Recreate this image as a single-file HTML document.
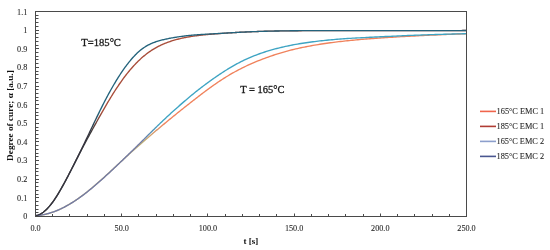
<!DOCTYPE html>
<html><head><meta charset="utf-8"><style>
html,body{margin:0;padding:0;background:#fff;}
body{width:550px;height:250px;overflow:hidden;}
svg{display:block;font-family:"Liberation Serif",serif;will-change:transform;}
</style></head><body>
<svg width="550" height="250" viewBox="0 0 550 250">
<rect x="0" y="0" width="550" height="250" fill="#fff"/>
<defs>
<linearGradient id="gb185" gradientUnits="userSpaceOnUse" x1="0" y1="216" x2="0" y2="100">
<stop offset="0" stop-color="#34343f"/><stop offset="0.72" stop-color="#34343f"/><stop offset="0.9" stop-color="#24637c"/><stop offset="1" stop-color="#24637c"/>
</linearGradient>
<linearGradient id="gb165" gradientUnits="userSpaceOnUse" x1="0" y1="216" x2="0" y2="110">
<stop offset="0" stop-color="#727aa6"/><stop offset="0.7" stop-color="#727aa6"/><stop offset="0.88" stop-color="#3ea4c3"/><stop offset="1" stop-color="#3ea4c3"/>
</linearGradient>
<linearGradient id="go165" gradientUnits="userSpaceOnUse" x1="0" y1="216" x2="0" y2="110">
<stop offset="0" stop-color="#c0b078"/><stop offset="0.7" stop-color="#c0b078"/><stop offset="0.88" stop-color="#f0825c"/><stop offset="1" stop-color="#f0825c"/>
</linearGradient>
<linearGradient id="gr185" gradientUnits="userSpaceOnUse" x1="0" y1="216" x2="0" y2="100">
<stop offset="0" stop-color="#3c3a3a"/><stop offset="0.72" stop-color="#3c3a3a"/><stop offset="0.9" stop-color="#a84d3a"/><stop offset="1" stop-color="#a84d3a"/>
</linearGradient>
<clipPath id="pc"><rect x="36" y="12" width="430" height="204"/></clipPath>
</defs>
<g fill="none" stroke-linejoin="round" stroke-linecap="butt" stroke-width="1.35" clip-path="url(#pc)">
<polyline stroke="url(#go165)" points="35.50,215.80 36.36,215.55 37.22,215.52 38.09,215.47 38.95,215.40 39.81,215.31 40.67,215.20 41.53,215.08 42.39,214.94 43.26,214.78 44.12,214.61 44.98,214.42 45.84,214.22 46.70,214.01 47.57,213.79 48.43,213.55 49.29,213.30 50.15,213.04 51.01,212.76 51.87,212.48 52.74,212.18 53.60,211.87 54.46,211.55 55.32,211.22 56.18,210.87 57.05,210.52 57.91,210.15 58.77,209.78 59.63,209.39 60.49,208.99 61.35,208.58 62.22,208.16 63.08,207.73 63.94,207.29 64.80,206.84 65.66,206.38 66.52,205.91 67.39,205.42 68.25,204.93 69.11,204.43 69.97,203.92 70.83,203.40 71.70,202.86 72.56,202.32 73.42,201.77 74.28,201.21 75.14,200.64 76.00,200.07 76.87,199.48 77.73,198.88 78.59,198.28 79.45,197.67 80.31,197.04 81.18,196.41 82.04,195.77 82.90,195.13 83.76,194.47 84.62,193.81 85.48,193.14 86.35,192.46 87.21,191.78 88.07,191.09 88.93,190.39 89.79,189.68 90.66,188.97 91.52,188.26 92.38,187.54 93.24,186.81 94.10,186.08 94.96,185.34 95.83,184.59 96.69,183.85 97.55,183.09 98.41,182.34 99.27,181.58 100.14,180.81 101.00,180.04 101.86,179.27 102.72,178.50 103.58,177.72 104.44,176.94 105.31,176.15 106.17,175.36 107.03,174.57 107.89,173.78 108.75,172.99 109.61,172.19 110.48,171.40 111.34,170.60 112.20,169.80 113.06,169.00 113.92,168.20 114.79,167.39 115.65,166.59 116.51,165.79 117.37,164.98 118.23,164.18 119.09,163.38 119.96,162.58 120.82,161.78 121.68,160.98 122.54,160.18 123.40,159.39 124.27,158.59 125.13,157.80 125.99,157.01 126.85,156.22 127.71,155.43 128.57,154.65 129.44,153.86 130.30,153.08 131.16,152.30 132.02,151.53 132.88,150.75 133.75,149.98 134.61,149.21 135.47,148.44 136.33,147.67 137.19,146.91 138.05,146.15 138.92,145.39 139.78,144.63 140.64,143.87 141.50,143.12 142.36,142.37 143.22,141.62 144.09,140.87 144.95,140.13 145.81,139.39 146.67,138.64 147.53,137.91 148.40,137.17 149.26,136.43 150.12,135.70 150.98,134.97 151.84,134.24 152.70,133.51 153.57,132.78 154.43,132.05 155.29,131.32 156.15,130.60 157.01,129.87 157.88,129.15 158.74,128.42 159.60,127.70 160.46,126.98 161.32,126.26 162.18,125.54 163.05,124.82 163.91,124.11 164.77,123.39 165.63,122.68 166.49,121.96 167.36,121.25 168.22,120.54 169.08,119.83 169.94,119.13 170.80,118.42 171.66,117.72 172.53,117.02 173.39,116.32 174.25,115.62 175.11,114.92 175.97,114.22 176.84,113.53 177.70,112.84 178.56,112.14 179.42,111.45 180.28,110.76 181.14,110.07 182.01,109.38 182.87,108.70 183.73,108.01 184.59,107.33 185.45,106.64 186.31,105.96 187.18,105.28 188.04,104.60 188.90,103.92 189.76,103.24 190.62,102.56 191.49,101.88 192.35,101.21 193.21,100.53 194.07,99.86 194.93,99.19 195.79,98.52 196.66,97.85 197.52,97.19 198.38,96.52 199.24,95.86 200.10,95.20 200.97,94.54 201.83,93.89 202.69,93.23 203.55,92.58 204.41,91.93 205.27,91.29 206.14,90.65 207.00,90.01 207.86,89.37 208.72,88.74 209.58,88.11 210.45,87.49 211.31,86.87 212.17,86.25 213.03,85.64 213.89,85.03 214.75,84.43 215.62,83.83 216.48,83.23 217.34,82.64 218.20,82.06 219.06,81.48 219.93,80.91 220.79,80.34 221.65,79.77 222.51,79.22 223.37,78.66 224.23,78.12 225.10,77.58 225.96,77.04 226.82,76.51 227.68,75.99 228.54,75.47 229.41,74.95 230.27,74.45 231.13,73.95 231.99,73.45 232.85,72.96 233.71,72.47 234.58,71.99 235.44,71.52 236.30,71.05 237.16,70.59 238.02,70.13 238.88,69.68 239.75,69.23 240.61,68.79 241.47,68.36 242.33,67.93 244.06,67.08 245.78,66.25 247.50,65.44 249.23,64.65 250.95,63.88 252.67,63.13 254.40,62.39 256.12,61.67 257.84,60.96 259.57,60.27 261.29,59.59 263.02,58.93 264.74,58.28 266.46,57.65 268.19,57.03 269.91,56.43 271.63,55.84 273.36,55.26 275.08,54.70 276.80,54.15 278.53,53.61 280.25,53.08 281.97,52.57 283.70,52.08 285.42,51.59 287.15,51.12 288.87,50.66 290.59,50.21 292.32,49.78 294.04,49.35 295.76,48.94 297.49,48.55 299.21,48.16 300.93,47.78 302.66,47.42 304.38,47.06 306.11,46.72 307.83,46.39 309.55,46.06 311.28,45.75 313.00,45.44 314.72,45.14 316.45,44.85 318.17,44.57 319.89,44.29 321.62,44.03 323.34,43.76 325.06,43.51 326.79,43.26 328.51,43.02 330.24,42.79 331.96,42.56 333.68,42.33 335.41,42.12 337.13,41.90 338.85,41.70 340.58,41.50 342.30,41.30 344.02,41.11 345.75,40.92 347.47,40.74 349.20,40.56 350.92,40.39 352.64,40.22 354.37,40.06 356.09,39.90 357.81,39.74 359.54,39.59 361.26,39.44 362.98,39.29 364.71,39.15 366.43,39.01 368.15,38.87 369.88,38.73 371.60,38.60 373.33,38.47 375.05,38.35 376.77,38.22 378.50,38.10 380.22,37.98 381.94,37.87 383.67,37.75 385.39,37.64 387.11,37.53 388.84,37.42 390.56,37.31 392.29,37.21 394.01,37.10 395.73,37.00 397.46,36.90 399.18,36.80 400.90,36.70 402.63,36.60 404.35,36.51 406.07,36.42 407.80,36.32 409.52,36.23 411.24,36.14 412.97,36.05 414.69,35.96 416.42,35.87 418.14,35.79 419.86,35.70 421.59,35.62 423.31,35.53 425.03,35.45 426.76,35.37 428.48,35.28 430.20,35.20 431.93,35.13 433.65,35.05 435.38,34.97 437.10,34.89 438.82,34.82 440.55,34.74 442.27,34.67 443.99,34.59 445.72,34.52 447.44,34.45 449.16,34.38 450.89,34.31 452.61,34.24 454.33,34.17 456.06,34.10 457.78,34.03 459.51,33.96 461.23,33.90 462.95,33.83 464.68,33.77 466.40,33.70"/>
<polyline stroke="url(#gr185)" points="35.50,215.80 36.36,215.56 37.22,215.41 38.09,215.17 38.95,214.85 39.81,214.45 40.67,214.00 41.53,213.48 42.39,212.90 43.26,212.27 44.12,211.58 44.98,210.84 45.84,210.05 46.70,209.21 47.57,208.32 48.43,207.38 49.29,206.40 50.15,205.37 51.01,204.29 51.87,203.16 52.74,201.99 53.60,200.78 54.46,199.53 55.32,198.23 56.18,196.90 57.05,195.53 57.91,194.13 58.77,192.70 59.63,191.23 60.49,189.74 61.35,188.23 62.22,186.69 63.08,185.13 63.94,183.56 64.80,181.96 65.66,180.36 66.52,178.74 67.39,177.10 68.25,175.46 69.11,173.81 69.97,172.15 70.83,170.48 71.70,168.81 72.56,167.14 73.42,165.46 74.28,163.78 75.14,162.10 76.00,160.43 76.87,158.75 77.73,157.08 78.59,155.41 79.45,153.75 80.31,152.09 81.18,150.43 82.04,148.78 82.90,147.14 83.76,145.51 84.62,143.88 85.48,142.26 86.35,140.65 87.21,139.04 88.07,137.44 88.93,135.85 89.79,134.26 90.66,132.68 91.52,131.11 92.38,129.54 93.24,127.98 94.10,126.42 94.96,124.86 95.83,123.31 96.69,121.77 97.55,120.22 98.41,118.69 99.27,117.15 100.14,115.62 101.00,114.10 101.86,112.58 102.72,111.07 103.58,109.56 104.44,108.07 105.31,106.58 106.17,105.10 107.03,103.64 107.89,102.18 108.75,100.74 109.61,99.30 110.48,97.88 111.34,96.48 112.20,95.09 113.06,93.71 113.92,92.35 114.79,91.00 115.65,89.67 116.51,88.35 117.37,87.05 118.23,85.77 119.09,84.50 119.96,83.25 120.82,82.02 121.68,80.81 122.54,79.61 123.40,78.43 124.27,77.27 125.13,76.13 125.99,75.01 126.85,73.91 127.71,72.82 128.57,71.76 129.44,70.72 130.30,69.69 131.16,68.69 132.02,67.70 132.88,66.73 133.75,65.79 134.61,64.86 135.47,63.94 136.33,63.05 137.19,62.18 138.05,61.32 138.92,60.49 139.78,59.67 140.64,58.87 141.50,58.09 142.36,57.33 143.22,56.59 144.09,55.87 144.95,55.16 145.81,54.48 146.67,53.81 147.53,53.16 148.40,52.53 149.26,51.91 150.12,51.32 150.98,50.74 151.84,50.17 152.70,49.63 153.57,49.09 154.43,48.58 155.29,48.08 156.15,47.59 157.01,47.12 157.88,46.66 158.74,46.22 159.60,45.78 160.46,45.37 161.32,44.96 162.18,44.57 163.05,44.19 163.91,43.82 164.77,43.46 165.63,43.11 166.49,42.78 167.36,42.45 168.22,42.13 169.08,41.82 169.94,41.53 170.80,41.24 171.66,40.96 172.53,40.69 173.39,40.42 174.25,40.17 175.11,39.92 175.97,39.68 176.84,39.45 177.70,39.23 178.56,39.01 179.42,38.80 180.28,38.60 181.14,38.40 182.01,38.21 182.87,38.02 183.73,37.84 184.59,37.67 185.45,37.50 186.31,37.34 187.18,37.18 188.04,37.02 188.90,36.87 189.76,36.73 190.62,36.59 191.49,36.45 192.35,36.32 193.21,36.19 194.07,36.06 194.93,35.94 195.79,35.82 196.66,35.71 197.52,35.60 198.38,35.49 199.24,35.39 200.10,35.29 200.97,35.19 201.83,35.10 202.69,35.00 203.55,34.91 204.41,34.83 205.27,34.74 206.14,34.66 207.00,34.58 207.86,34.51 208.72,34.43 209.58,34.36 210.45,34.28 211.31,34.21 212.17,34.14 213.03,34.07 213.89,34.01 214.75,33.94 215.62,33.87 216.48,33.81 217.34,33.74 218.20,33.68 219.06,33.61 219.93,33.55 220.79,33.48 221.65,33.42 222.51,33.36 223.37,33.30 224.23,33.24 225.10,33.18 225.96,33.12 226.82,33.06 227.68,33.00 228.54,32.95 229.41,32.89 230.27,32.83 231.13,32.78 231.99,32.72 232.85,32.67 233.71,32.62 234.58,32.57 235.44,32.52 236.30,32.47 237.16,32.42 238.02,32.37 238.88,32.32 239.75,32.27 240.61,32.23 241.47,32.18 242.33,32.14 244.06,32.06 245.78,31.97 247.50,31.90 249.23,31.82 250.95,31.75 252.67,31.68 254.40,31.62 256.12,31.56 257.84,31.50 259.57,31.44 261.29,31.39 263.02,31.33 264.74,31.29 266.46,31.24 268.19,31.20 269.91,31.15 271.63,31.11 273.36,31.08 275.08,31.04 276.80,31.01 278.53,30.98 280.25,30.95 281.97,30.92 283.70,30.89 285.42,30.87 287.15,30.84 288.87,30.82 290.59,30.80 292.32,30.78 294.04,30.77 295.76,30.75 297.49,30.74 299.21,30.72 300.93,30.71 302.66,30.70 304.38,30.69 306.11,30.68 307.83,30.68 309.55,30.67 311.28,30.66 313.00,30.66 314.72,30.65 316.45,30.65 318.17,30.65 319.89,30.65 321.62,30.64 323.34,30.64 325.06,30.64 326.79,30.64 328.51,30.64 330.24,30.64 331.96,30.64 333.68,30.64 335.41,30.64 337.13,30.64 338.85,30.64 340.58,30.64 342.30,30.64 344.02,30.64 345.75,30.64 347.47,30.64 349.20,30.64 350.92,30.64 352.64,30.64 354.37,30.64 356.09,30.64 357.81,30.64 359.54,30.64 361.26,30.64 362.98,30.64 364.71,30.64 366.43,30.64 368.15,30.64 369.88,30.64 371.60,30.64 373.33,30.64 375.05,30.64 376.77,30.64 378.50,30.64 380.22,30.64 381.94,30.64 383.67,30.64 385.39,30.64 387.11,30.64 388.84,30.64 390.56,30.64 392.29,30.64 394.01,30.64 395.73,30.64 397.46,30.64 399.18,30.64 400.90,30.64 402.63,30.64 404.35,30.64 406.07,30.64 407.80,30.64 409.52,30.64 411.24,30.64 412.97,30.64 414.69,30.64 416.42,30.64 418.14,30.64 419.86,30.64 421.59,30.64 423.31,30.64 425.03,30.64 426.76,30.64 428.48,30.64 430.20,30.64 431.93,30.64 433.65,30.63 435.38,30.63 437.10,30.62 438.82,30.62 440.55,30.61 442.27,30.61 443.99,30.60 445.72,30.60 447.44,30.59 449.16,30.59 450.89,30.58 452.61,30.58 454.33,30.57 456.06,30.56 457.78,30.56 459.51,30.55 461.23,30.55 462.95,30.54 464.68,30.54 466.40,30.53"/>
<polyline stroke="url(#gb165)" points="35.50,215.80 36.36,215.52 37.22,215.47 38.09,215.41 38.95,215.33 39.81,215.23 40.67,215.11 41.53,214.99 42.39,214.84 43.26,214.69 44.12,214.52 44.98,214.33 45.84,214.14 46.70,213.93 47.57,213.71 48.43,213.48 49.29,213.23 50.15,212.97 51.01,212.70 51.87,212.42 52.74,212.13 53.60,211.83 54.46,211.51 55.32,211.18 56.18,210.85 57.05,210.50 57.91,210.14 58.77,209.77 59.63,209.38 60.49,208.99 61.35,208.59 62.22,208.17 63.08,207.75 63.94,207.31 64.80,206.86 65.66,206.41 66.52,205.94 67.39,205.46 68.25,204.97 69.11,204.48 69.97,203.97 70.83,203.45 71.70,202.92 72.56,202.39 73.42,201.84 74.28,201.29 75.14,200.72 76.00,200.15 76.87,199.56 77.73,198.97 78.59,198.37 79.45,197.76 80.31,197.14 81.18,196.52 82.04,195.88 82.90,195.24 83.76,194.59 84.62,193.93 85.48,193.27 86.35,192.60 87.21,191.92 88.07,191.23 88.93,190.54 89.79,189.84 90.66,189.13 91.52,188.42 92.38,187.70 93.24,186.98 94.10,186.25 94.96,185.52 95.83,184.78 96.69,184.04 97.55,183.29 98.41,182.54 99.27,181.78 100.14,181.02 101.00,180.25 101.86,179.48 102.72,178.71 103.58,177.93 104.44,177.15 105.31,176.37 106.17,175.58 107.03,174.79 107.89,173.99 108.75,173.20 109.61,172.40 110.48,171.59 111.34,170.79 112.20,169.98 113.06,169.17 113.92,168.36 114.79,167.55 115.65,166.73 116.51,165.91 117.37,165.09 118.23,164.27 119.09,163.45 119.96,162.63 120.82,161.80 121.68,160.98 122.54,160.15 123.40,159.32 124.27,158.49 125.13,157.67 125.99,156.84 126.85,156.00 127.71,155.17 128.57,154.34 129.44,153.50 130.30,152.67 131.16,151.83 132.02,150.99 132.88,150.15 133.75,149.31 134.61,148.47 135.47,147.62 136.33,146.78 137.19,145.93 138.05,145.09 138.92,144.24 139.78,143.39 140.64,142.54 141.50,141.69 142.36,140.83 143.22,139.98 144.09,139.13 144.95,138.27 145.81,137.42 146.67,136.56 147.53,135.71 148.40,134.85 149.26,134.00 150.12,133.14 150.98,132.29 151.84,131.44 152.70,130.59 153.57,129.75 154.43,128.90 155.29,128.06 156.15,127.22 157.01,126.38 157.88,125.55 158.74,124.71 159.60,123.88 160.46,123.06 161.32,122.23 162.18,121.41 163.05,120.59 163.91,119.78 164.77,118.97 165.63,118.16 166.49,117.35 167.36,116.55 168.22,115.75 169.08,114.95 169.94,114.16 170.80,113.37 171.66,112.58 172.53,111.80 173.39,111.02 174.25,110.24 175.11,109.46 175.97,108.69 176.84,107.92 177.70,107.16 178.56,106.39 179.42,105.63 180.28,104.87 181.14,104.12 182.01,103.37 182.87,102.62 183.73,101.88 184.59,101.13 185.45,100.40 186.31,99.66 187.18,98.93 188.04,98.20 188.90,97.48 189.76,96.76 190.62,96.05 191.49,95.33 192.35,94.63 193.21,93.92 194.07,93.22 194.93,92.53 195.79,91.84 196.66,91.15 197.52,90.47 198.38,89.79 199.24,89.12 200.10,88.45 200.97,87.78 201.83,87.12 202.69,86.47 203.55,85.82 204.41,85.17 205.27,84.53 206.14,83.89 207.00,83.26 207.86,82.63 208.72,82.00 209.58,81.37 210.45,80.75 211.31,80.14 212.17,79.52 213.03,78.91 213.89,78.31 214.75,77.70 215.62,77.10 216.48,76.51 217.34,75.92 218.20,75.33 219.06,74.75 219.93,74.17 220.79,73.59 221.65,73.02 222.51,72.46 223.37,71.90 224.23,71.35 225.10,70.80 225.96,70.25 226.82,69.72 227.68,69.18 228.54,68.66 229.41,68.14 230.27,67.62 231.13,67.11 231.99,66.61 232.85,66.11 233.71,65.62 234.58,65.13 235.44,64.65 236.30,64.18 237.16,63.71 238.02,63.25 238.88,62.80 239.75,62.35 240.61,61.91 241.47,61.47 242.33,61.05 244.06,60.21 245.78,59.40 247.50,58.61 249.23,57.85 250.95,57.11 252.67,56.39 254.40,55.70 256.12,55.03 257.84,54.38 259.57,53.75 261.29,53.15 263.02,52.56 264.74,52.00 266.46,51.45 268.19,50.92 269.91,50.40 271.63,49.91 273.36,49.43 275.08,48.96 276.80,48.51 278.53,48.07 280.25,47.65 281.97,47.24 283.70,46.84 285.42,46.45 287.15,46.08 288.87,45.72 290.59,45.37 292.32,45.03 294.04,44.70 295.76,44.39 297.49,44.08 299.21,43.79 300.93,43.51 302.66,43.23 304.38,42.97 306.11,42.71 307.83,42.46 309.55,42.22 311.28,41.99 313.00,41.77 314.72,41.55 316.45,41.34 318.17,41.14 319.89,40.94 321.62,40.75 323.34,40.57 325.06,40.39 326.79,40.21 328.51,40.04 330.24,39.88 331.96,39.72 333.68,39.57 335.41,39.42 337.13,39.28 338.85,39.14 340.58,39.01 342.30,38.88 344.02,38.76 345.75,38.64 347.47,38.52 349.20,38.41 350.92,38.30 352.64,38.20 354.37,38.10 356.09,38.00 357.81,37.91 359.54,37.81 361.26,37.72 362.98,37.63 364.71,37.55 366.43,37.46 368.15,37.38 369.88,37.29 371.60,37.21 373.33,37.13 375.05,37.04 376.77,36.96 378.50,36.88 380.22,36.79 381.94,36.71 383.67,36.63 385.39,36.54 387.11,36.46 388.84,36.38 390.56,36.30 392.29,36.21 394.01,36.13 395.73,36.05 397.46,35.98 399.18,35.90 400.90,35.82 402.63,35.74 404.35,35.67 406.07,35.60 407.80,35.52 409.52,35.45 411.24,35.39 412.97,35.32 414.69,35.25 416.42,35.19 418.14,35.12 419.86,35.06 421.59,35.00 423.31,34.93 425.03,34.87 426.76,34.82 428.48,34.76 430.20,34.70 431.93,34.65 433.65,34.59 435.38,34.54 437.10,34.48 438.82,34.43 440.55,34.38 442.27,34.33 443.99,34.28 445.72,34.23 447.44,34.18 449.16,34.13 450.89,34.09 452.61,34.04 454.33,33.99 456.06,33.95 457.78,33.90 459.51,33.86 461.23,33.82 462.95,33.77 464.68,33.73 466.40,33.69"/>
<polyline stroke="url(#gb185)" points="35.50,215.80 36.36,215.49 37.22,215.31 38.09,215.06 38.95,214.73 39.81,214.34 40.67,213.89 41.53,213.38 42.39,212.81 43.26,212.19 44.12,211.52 44.98,210.79 45.84,210.02 46.70,209.19 47.57,208.31 48.43,207.39 49.29,206.42 50.15,205.40 51.01,204.34 51.87,203.23 52.74,202.08 53.60,200.88 54.46,199.64 55.32,198.36 56.18,197.04 57.05,195.69 57.91,194.30 58.77,192.88 59.63,191.43 60.49,189.95 61.35,188.44 62.22,186.92 63.08,185.37 63.94,183.80 64.80,182.21 65.66,180.61 66.52,178.99 67.39,177.35 68.25,175.70 69.11,174.04 69.97,172.37 70.83,170.69 71.70,168.99 72.56,167.29 73.42,165.58 74.28,163.86 75.14,162.13 76.00,160.40 76.87,158.65 77.73,156.91 78.59,155.15 79.45,153.39 80.31,151.63 81.18,149.85 82.04,148.08 82.90,146.29 83.76,144.50 84.62,142.71 85.48,140.91 86.35,139.11 87.21,137.30 88.07,135.49 88.93,133.68 89.79,131.86 90.66,130.05 91.52,128.23 92.38,126.42 93.24,124.60 94.10,122.79 94.96,120.99 95.83,119.19 96.69,117.40 97.55,115.62 98.41,113.84 99.27,112.08 100.14,110.32 101.00,108.59 101.86,106.86 102.72,105.15 103.58,103.45 104.44,101.78 105.31,100.11 106.17,98.47 107.03,96.85 107.89,95.24 108.75,93.65 109.61,92.08 110.48,90.53 111.34,89.00 112.20,87.48 113.06,85.99 113.92,84.51 114.79,83.06 115.65,81.62 116.51,80.21 117.37,78.81 118.23,77.44 119.09,76.08 119.96,74.75 120.82,73.44 121.68,72.15 122.54,70.89 123.40,69.64 124.27,68.43 125.13,67.23 125.99,66.06 126.85,64.91 127.71,63.79 128.57,62.69 129.44,61.62 130.30,60.56 131.16,59.54 132.02,58.54 132.88,57.56 133.75,56.61 134.61,55.69 135.47,54.80 136.33,53.93 137.19,53.10 138.05,52.29 138.92,51.52 139.78,50.78 140.64,50.07 141.50,49.39 142.36,48.74 143.22,48.12 144.09,47.53 144.95,46.96 145.81,46.43 146.67,45.92 147.53,45.43 148.40,44.97 149.26,44.53 150.12,44.12 150.98,43.72 151.84,43.35 152.70,42.99 153.57,42.65 154.43,42.32 155.29,42.01 156.15,41.72 157.01,41.43 157.88,41.16 158.74,40.90 159.60,40.65 160.46,40.42 161.32,40.19 162.18,39.97 163.05,39.75 163.91,39.55 164.77,39.35 165.63,39.16 166.49,38.97 167.36,38.79 168.22,38.62 169.08,38.45 169.94,38.28 170.80,38.12 171.66,37.96 172.53,37.80 173.39,37.65 174.25,37.50 175.11,37.36 175.97,37.22 176.84,37.08 177.70,36.94 178.56,36.81 179.42,36.69 180.28,36.56 181.14,36.44 182.01,36.33 182.87,36.21 183.73,36.10 184.59,36.00 185.45,35.89 186.31,35.79 187.18,35.70 188.04,35.60 188.90,35.51 189.76,35.43 190.62,35.34 191.49,35.26 192.35,35.18 193.21,35.10 194.07,35.03 194.93,34.96 195.79,34.89 196.66,34.82 197.52,34.76 198.38,34.70 199.24,34.64 200.10,34.58 200.97,34.52 201.83,34.46 202.69,34.41 203.55,34.36 204.41,34.30 205.27,34.25 206.14,34.20 207.00,34.15 207.86,34.10 208.72,34.06 209.58,34.01 210.45,33.96 211.31,33.91 212.17,33.87 213.03,33.82 213.89,33.77 214.75,33.72 215.62,33.67 216.48,33.62 217.34,33.57 218.20,33.52 219.06,33.47 219.93,33.42 220.79,33.37 221.65,33.32 222.51,33.27 223.37,33.21 224.23,33.16 225.10,33.11 225.96,33.06 226.82,33.01 227.68,32.96 228.54,32.91 229.41,32.86 230.27,32.81 231.13,32.76 231.99,32.71 232.85,32.66 233.71,32.61 234.58,32.56 235.44,32.51 236.30,32.47 237.16,32.42 238.02,32.37 238.88,32.33 239.75,32.28 240.61,32.24 241.47,32.20 242.33,32.15 244.06,32.07 245.78,31.99 247.50,31.91 249.23,31.84 250.95,31.77 252.67,31.70 254.40,31.63 256.12,31.57 257.84,31.51 259.57,31.45 261.29,31.40 263.02,31.34 264.74,31.29 266.46,31.24 268.19,31.20 269.91,31.15 271.63,31.11 273.36,31.07 275.08,31.03 276.80,31.00 278.53,30.97 280.25,30.93 281.97,30.90 283.70,30.88 285.42,30.85 287.15,30.83 288.87,30.80 290.59,30.78 292.32,30.76 294.04,30.75 295.76,30.73 297.49,30.71 299.21,30.70 300.93,30.69 302.66,30.68 304.38,30.67 306.11,30.66 307.83,30.65 309.55,30.64 311.28,30.64 313.00,30.63 314.72,30.63 316.45,30.62 318.17,30.62 319.89,30.62 321.62,30.62 323.34,30.62 325.06,30.62 326.79,30.62 328.51,30.62 330.24,30.62 331.96,30.62 333.68,30.62 335.41,30.62 337.13,30.62 338.85,30.62 340.58,30.62 342.30,30.62 344.02,30.62 345.75,30.62 347.47,30.62 349.20,30.62 350.92,30.62 352.64,30.62 354.37,30.62 356.09,30.62 357.81,30.62 359.54,30.62 361.26,30.62 362.98,30.62 364.71,30.62 366.43,30.62 368.15,30.62 369.88,30.62 371.60,30.62 373.33,30.62 375.05,30.62 376.77,30.62 378.50,30.62 380.22,30.62 381.94,30.62 383.67,30.62 385.39,30.62 387.11,30.62 388.84,30.62 390.56,30.62 392.29,30.62 394.01,30.62 395.73,30.62 397.46,30.62 399.18,30.62 400.90,30.62 402.63,30.62 404.35,30.62 406.07,30.62 407.80,30.62 409.52,30.62 411.24,30.62 412.97,30.62 414.69,30.62 416.42,30.62 418.14,30.62 419.86,30.62 421.59,30.62 423.31,30.62 425.03,30.62 426.76,30.62 428.48,30.62 430.20,30.62 431.93,30.62 433.65,30.62 435.38,30.62 437.10,30.62 438.82,30.62 440.55,30.61 442.27,30.61 443.99,30.60 445.72,30.59 447.44,30.59 449.16,30.58 450.89,30.58 452.61,30.57 454.33,30.57 456.06,30.56 457.78,30.56 459.51,30.55 461.23,30.55 462.95,30.54 464.68,30.54 466.40,30.53"/>
</g>
<rect x="35.5" y="11.5" width="431.0" height="205.00" fill="none" stroke="#4a4a4a" stroke-width="1"/>
<path d="M35.5 216.50h3.5 M35.5 212.50h3.0 M35.5 209.50h3.0 M35.5 205.50h3.0 M35.5 201.50h3.0 M35.5 197.50h3.5 M35.5 194.50h3.0 M35.5 190.50h3.0 M35.5 186.50h3.0 M35.5 182.50h3.0 M35.5 179.50h3.5 M35.5 175.50h3.0 M35.5 171.50h3.0 M35.5 168.50h3.0 M35.5 164.50h3.0 M35.5 160.50h3.5 M35.5 156.50h3.0 M35.5 153.50h3.0 M35.5 149.50h3.0 M35.5 145.50h3.0 M35.5 141.50h3.5 M35.5 138.50h3.0 M35.5 134.50h3.0 M35.5 130.50h3.0 M35.5 127.50h3.0 M35.5 123.50h3.5 M35.5 119.50h3.0 M35.5 115.50h3.0 M35.5 112.50h3.0 M35.5 108.50h3.0 M35.5 104.50h3.5 M35.5 100.50h3.0 M35.5 97.50h3.0 M35.5 93.50h3.0 M35.5 89.50h3.0 M35.5 86.50h3.5 M35.5 82.50h3.0 M35.5 78.50h3.0 M35.5 74.50h3.0 M35.5 71.50h3.0 M35.5 67.50h3.5 M35.5 63.50h3.0 M35.5 59.50h3.0 M35.5 56.50h3.0 M35.5 52.50h3.0 M35.5 48.50h3.5 M35.5 45.50h3.0 M35.5 41.50h3.0 M35.5 37.50h3.0 M35.5 33.50h3.0 M35.5 30.50h3.5 M35.5 26.50h3.0 M35.5 22.50h3.0 M35.5 18.50h3.0 M35.5 15.50h3.0 M35.5 11.50h3.5 M35.50 216.50v-3.0 M52.50 216.50v-2.5 M69.50 216.50v-2.5 M87.50 216.50v-2.5 M104.50 216.50v-2.5 M121.50 216.50v-3.0 M138.50 216.50v-2.5 M156.50 216.50v-2.5 M173.50 216.50v-2.5 M190.50 216.50v-2.5 M207.50 216.50v-3.0 M225.50 216.50v-2.5 M242.50 216.50v-2.5 M259.50 216.50v-2.5 M276.50 216.50v-2.5 M294.50 216.50v-3.0 M311.50 216.50v-2.5 M328.50 216.50v-2.5 M345.50 216.50v-2.5 M363.50 216.50v-2.5 M380.50 216.50v-3.0 M397.50 216.50v-2.5 M414.50 216.50v-2.5 M432.50 216.50v-2.5 M449.50 216.50v-2.5 M466.50 216.50v-3.0" stroke="#4a4a4a" stroke-width="1" fill="none"/>
<g font-size="8.2" fill="#2a2a2a" stroke="#2a2a2a" stroke-width="0.1">
<text x="27.3" y="219.40" text-anchor="end">0</text><text x="27.3" y="200.76" text-anchor="end">0.1</text><text x="27.3" y="182.13" text-anchor="end">0.2</text><text x="27.3" y="163.49" text-anchor="end">0.3</text><text x="27.3" y="144.85" text-anchor="end">0.4</text><text x="27.3" y="126.22" text-anchor="end">0.5</text><text x="27.3" y="107.58" text-anchor="end">0.6</text><text x="27.3" y="88.95" text-anchor="end">0.7</text><text x="27.3" y="70.31" text-anchor="end">0.8</text><text x="27.3" y="51.67" text-anchor="end">0.9</text><text x="27.3" y="33.04" text-anchor="end">1</text><text x="27.3" y="15.10" text-anchor="end">1.1</text>
<text x="35.50" y="230.8" text-anchor="middle">0.0</text><text x="121.70" y="230.8" text-anchor="middle">50.0</text><text x="207.90" y="230.8" text-anchor="middle">100.0</text><text x="294.10" y="230.8" text-anchor="middle">150.0</text><text x="380.30" y="230.8" text-anchor="middle">200.0</text><text x="466.50" y="230.8" text-anchor="middle">250.0</text>
</g>
<text transform="translate(12.9,115.6) rotate(-90)" text-anchor="middle" font-size="9.25" font-weight="bold" fill="#111">Degree of cure; α [a.u.]</text>
<text x="250.8" y="243.6" text-anchor="middle" font-size="9" font-weight="bold" fill="#111">t [s]</text>
<text x="81.3" y="46" font-size="10.6" fill="#1a1a1a" stroke="#1a1a1a" stroke-width="0.3">T=185°C</text>
<text x="240.2" y="92.8" font-size="10.5" fill="#1a1a1a" stroke="#1a1a1a" stroke-width="0.3">T = 165°C</text>
<g stroke-width="1.6">
<line x1="480" y1="111.4" x2="496" y2="111.4" stroke="#f0654c"/>
<line x1="480" y1="126.4" x2="496" y2="126.4" stroke="#b03c34"/>
<line x1="480" y1="141.4" x2="496" y2="141.4" stroke="#8c9fcc"/>
<line x1="480" y1="156.4" x2="496" y2="156.4" stroke="#4a5690"/>
</g>
<g font-size="8.3" fill="#2a2a2a" stroke="#2a2a2a" stroke-width="0.1">
<text x="496.6" y="114.2">165°C EMC 1</text>
<text x="496.5" y="129.2">185°C EMC 1</text>
<text x="496.5" y="144.2">165°C EMC 2</text>
<text x="496.5" y="159.2">185°C EMC 2</text>
</g>
</svg>
</body></html>
